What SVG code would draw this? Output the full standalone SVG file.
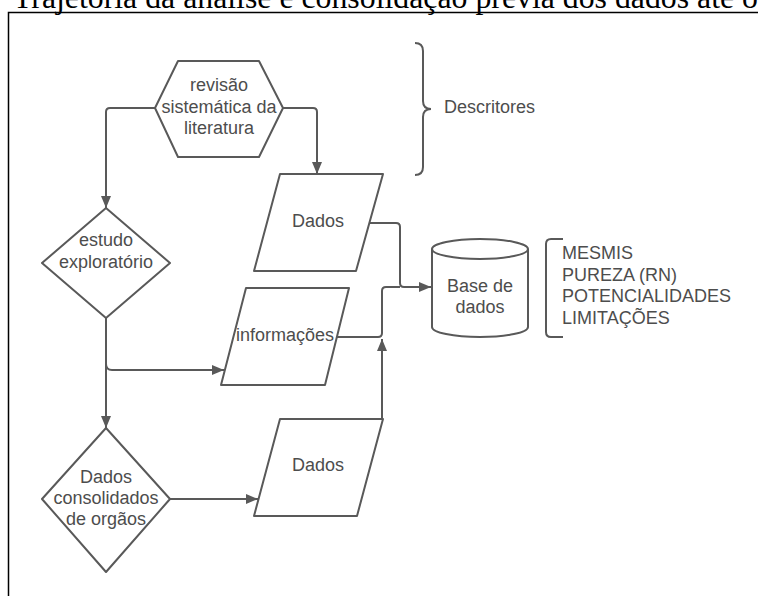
<svg xmlns="http://www.w3.org/2000/svg" width="758" height="596" viewBox="0 0 758 596">
<defs>
<style>
.s{fill:#fff;stroke:#595959;stroke-width:2;stroke-linejoin:round}
.c{fill:none;stroke:#595959;stroke-width:2}
.t{font-family:"Liberation Sans",Arial,sans-serif;font-size:18px;fill:#4d4d4d}
.m{text-anchor:middle}
</style>
<marker id="ah" viewBox="0 0 12 10" refX="12" refY="5" markerWidth="12" markerHeight="10" markerUnits="userSpaceOnUse" orient="auto">
<path d="M0,0 L12,5 L0,10 z" fill="#595959"/>
</marker>
</defs>
<rect width="758" height="596" fill="#fff"/>
<text x="13" y="8" font-family="'Liberation Serif','Times New Roman',serif" font-size="31" fill="#000" textLength="745" lengthAdjust="spacingAndGlyphs">Trajetória da análise e consolidação prévia dos dados até o</text>
<path d="M758,12.5 H8.5 V596" fill="none" stroke="#000" stroke-width="1.5"/>
<g id="connectors">
<path class="c" d="M155,108 H110 Q106,108 106,112 V208" marker-end="url(#ah)"/>
<path class="c" d="M283,108 H313 Q317,108 317,112 V174" marker-end="url(#ah)"/>
<path class="c" d="M370,223 H396 Q400,223 400,227 V283 Q400,287 404,287 H431" marker-end="url(#ah)"/>
<path class="c" d="M337,337 H378 Q382,337 382,333 V291 Q382,287 386,287 H400"/>
<path class="c" d="M382,419 V339" marker-end="url(#ah)"/>
<path class="c" d="M106,318 V428" marker-end="url(#ah)"/>
<path class="c" d="M106,364 Q106,370 112,370 H224" marker-end="url(#ah)"/>
<path class="c" d="M170,499 H258" marker-end="url(#ah)"/>
</g>
<g id="revisao">
<path class="s" d="M155,108 L178,61 H259 L283,108 L259,157 H178 Z"/>
<text class="t m" x="219" y="91">revisão</text>
<text class="t m" x="219" y="113">sistemática da</text>
<text class="t m" x="219" y="134">literatura</text>
</g>
<g id="descritores">
<path class="c" d="M415,43 Q423,43 423,51 V101 Q423,109 431,109 Q423,109 423,117 V167 Q423,175 415,175"/>
<text class="t" x="444" y="113">Descritores</text>
</g>
<g id="dados1">
<path class="s" d="M280,174 H383 L356,271 H254 Z"/>
<text class="t m" x="318" y="227">Dados</text>
</g>
<g id="estudo">
<path class="s" d="M106,208 L170,263 L106,318 L42,263 Z"/>
<text class="t m" x="106" y="246">estudo</text>
<text class="t m" x="106" y="268">exploratório</text>
</g>
<g id="informacoes">
<path class="s" d="M246,288 H349 L325,385 H221 Z"/>
<text class="t m" x="285" y="341">informações</text>
</g>
<g id="base">
<path class="s" d="M432,249 V327 A48,10 0 0 0 528,327 V249"/>
<ellipse class="s" cx="480" cy="249" rx="48" ry="10"/>
<text class="t m" x="480" y="292">Base de</text>
<text class="t m" x="480" y="313">dados</text>
</g>
<g id="lista">
<path class="c" d="M563,239 H551 Q546,239 546,244 V332 Q546,337 551,337 H563"/>
<text class="t" x="562" y="259">MESMIS</text>
<text class="t" x="562" y="281">PUREZA (RN)</text>
<text class="t" x="562" y="302">POTENCIALIDADES</text>
<text class="t" x="562" y="324">LIMITAÇÕES</text>
</g>
<g id="consolidados">
<path class="s" d="M106,428 L170,499 L106,572 L42,499 Z"/>
<text class="t m" x="106" y="483">Dados</text>
<text class="t m" x="106" y="504">consolidados</text>
<text class="t m" x="106" y="525">de orgãos</text>
</g>
<g id="dados2">
<path class="s" d="M280,419 H383 L357,516 H254 Z"/>
<text class="t m" x="318" y="471">Dados</text>
</g>
</svg>
